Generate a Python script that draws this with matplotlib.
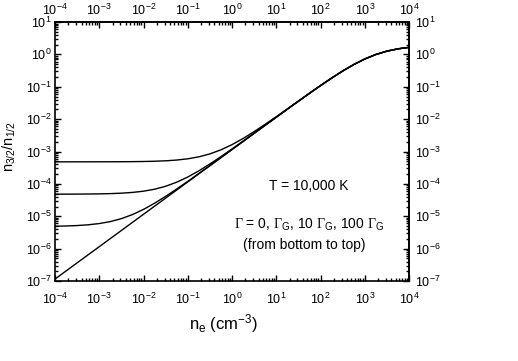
import matplotlib
matplotlib.use("Agg")
import matplotlib.pyplot as plt
import matplotlib.ticker as mticker

plt.rcParams["font.family"] = ["Liberation Sans", "DejaVu Sans"]
plt.rcParams["mathtext.fontset"] = "custom"
plt.rcParams["mathtext.rm"] = "Liberation Sans"
plt.rcParams["mathtext.it"] = "Liberation Sans:italic"
plt.rcParams["mathtext.sf"] = "Liberation Serif"
plt.rcParams["axes.unicode_minus"] = False

# electron density, quarter-decade steps 1e-4 .. 1e4 (cm^-3)
n_e = [1e-4, 1.778e-4, 3.162e-4, 5.623e-4,
       1e-3, 1.778e-3, 3.162e-3, 5.623e-3,
       1e-2, 1.778e-2, 3.162e-2, 5.623e-2,
       1e-1, 0.1778, 0.3162, 0.5623,
       1.0, 1.778, 3.162, 5.623,
       10.0, 17.78, 31.62, 56.23,
       100.0, 177.8, 316.2, 562.3,
       1000.0, 1778.0, 3162.0, 5623.0,
       1e4]

# n_3/2 / n_1/2, Gamma = 0
ratio_g0 = [1.15e-7, 2.045e-7, 3.636e-7, 6.467e-7,
            1.15e-6, 2.045e-6, 3.636e-6, 6.467e-6,
            1.15e-5, 2.045e-5, 3.636e-5, 6.467e-5,
            1.15e-4, 2.045e-4, 3.636e-4, 6.467e-4,
            1.15e-3, 2.045e-3, 3.636e-3, 6.467e-3,
            1.143e-2, 2.024e-2, 3.569e-2, 6.257e-2,
            0.1085, 0.1849, 0.3059, 0.4841,
            0.7201, 0.992, 1.259, 1.484,
            1.650]

# Gamma = Gamma_G
ratio_g1 = [4.915e-6, 5.005e-6, 5.164e-6, 5.447e-6,
            5.95e-6, 6.845e-6, 8.436e-6, 1.127e-5,
            1.630e-5, 2.525e-5, 4.116e-5, 6.947e-5,
            1.198e-4, 2.093e-4, 3.684e-4, 6.515e-4,
            1.155e-3, 2.050e-3, 3.641e-3, 6.472e-3,
            1.144e-2, 2.024e-2, 3.569e-2, 6.257e-2,
            0.1085, 0.1849, 0.3059, 0.4841,
            0.7201, 0.992, 1.259, 1.484,
            1.650]

# Gamma = 10 Gamma_G
ratio_g10 = [4.812e-5, 4.820e-5, 4.836e-5, 4.865e-5,
             4.915e-5, 5.005e-5, 5.164e-5, 5.447e-5,
             5.950e-5, 6.845e-5, 8.436e-5, 1.127e-4,
             1.630e-4, 2.525e-4, 4.116e-4, 6.947e-4,
             1.198e-3, 2.093e-3, 3.684e-3, 6.515e-3,
             1.148e-2, 2.029e-2, 3.574e-2, 6.262e-2,
             0.1085, 0.1849, 0.3059, 0.4841,
             0.7201, 0.992, 1.259, 1.484,
             1.650]

# Gamma = 100 Gamma_G
ratio_g100 = [4.801e-4, 4.802e-4, 4.804e-4, 4.806e-4,
              4.812e-4, 4.820e-4, 4.836e-4, 4.865e-4,
              4.915e-4, 5.005e-4, 5.164e-4, 5.447e-4,
              5.950e-4, 6.845e-4, 8.436e-4, 1.127e-3,
              1.630e-3, 2.525e-3, 4.116e-3, 6.946e-3,
              1.191e-2, 2.072e-2, 3.616e-2, 6.303e-2,
              0.1090, 0.1853, 0.3063, 0.4844,
              0.7203, 0.992, 1.259, 1.484,
              1.650]

x_decades = range(-4, 5)
y_decades = range(-7, 2)


def log_ticks(axis, decades):
    decades = list(decades)
    axis.set_major_locator(mticker.FixedLocator([10.0 ** e for e in decades]))
    axis.set_minor_locator(mticker.FixedLocator(
        [m * 10.0 ** e for e in decades[:-1] for m in range(2, 10)]))
    axis.set_major_formatter(mticker.LogFormatterSciNotation())
    axis.set_minor_formatter(mticker.NullFormatter())


fig = plt.figure(figsize=(5.18, 3.61), dpi=100)
ax = fig.add_axes([0.1062, 0.2216, 0.6834, 0.7174])

for ys in (ratio_g0, ratio_g1, ratio_g10, ratio_g100):
    ax.plot(n_e, ys, color="black", lw=1.0)

ax.set_xscale("log")
ax.set_yscale("log")
ax.set_xlim(1e-4, 1e4)
ax.set_ylim(1e-7, 1e1)
log_ticks(ax.xaxis, x_decades)
log_ticks(ax.yaxis, y_decades)

# top and right axes carry their own labels (different padding in the original)
secx = ax.secondary_xaxis("top")
secy = ax.secondary_yaxis("right")
log_ticks(secx.xaxis, x_decades)
log_ticks(secy.yaxis, y_decades)

for a in (ax, secx, secy):
    a.tick_params(which="both", direction="in", labelsize=9, width=1.0)
    a.tick_params(which="major", length=4.5)
    a.tick_params(which="minor", length=2.5)
    for sp in a.spines.values():
        sp.set_linewidth(1.2)
ax.tick_params(axis="x", pad=7.5)
ax.tick_params(axis="y", pad=2.5)
secx.tick_params(pad=3)
secy.tick_params(pad=4.5)

ax.set_xlabel(r"n$_\mathrm{e}$ (cm$^{-3}$)", fontsize=12)
ax.xaxis.set_label_coords(0.477, -0.12)
ax.set_ylabel("n$_{3/2}$/n$_{1/2}$", fontsize=10.5)
ax.yaxis.set_label_coords(-0.105, 0.52)

ax.text(0.7175, 0.367, "T = 10,000 K", transform=ax.transAxes,
        ha="center", va="center", fontsize=10)
ax.text(0.7175, 0.216,
        r"$\mathsf{Γ}$ = 0, $\mathsf{Γ}_\mathrm{G}$, 10 $\mathsf{Γ}_\mathrm{G}$, 100 $\mathsf{Γ}_\mathrm{G}$",
        transform=ax.transAxes, ha="center", va="center", fontsize=10)
ax.text(0.703, 0.139, "(from bottom to top)", transform=ax.transAxes,
        ha="center", va="center", fontsize=10)

fig.savefig("out.png", dpi=100)
